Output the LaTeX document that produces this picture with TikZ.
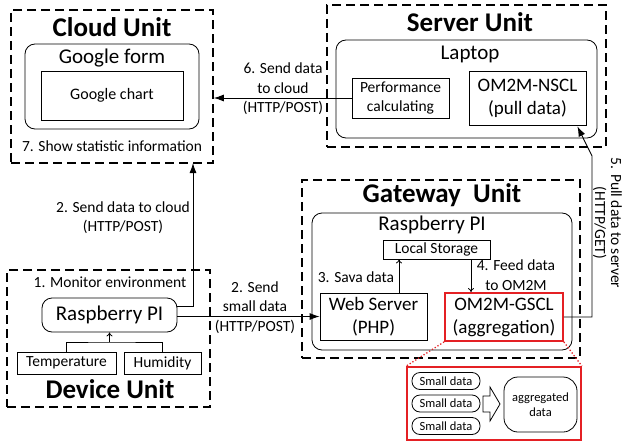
\documentclass[tikz,border=0pt]{standalone}
\usepackage{fontspec}
\setmainfont{Carlito}
\usetikzlibrary{arrows.meta,calc}
\definecolor{myred}{RGB}{228,32,36}
\begin{document}
\begin{tikzpicture}[x=1pt,y=-1pt,
  unitbox/.style={draw, dash pattern=on 9pt off 5pt, line width=1.6pt, inner sep=0pt},
  rbox/.style={draw, rounded corners=10pt, line width=0.8pt, inner sep=0pt},
  sbox/.style={draw, line width=0.8pt, inner sep=0pt, align=center},
  title/.style={font=\fontsize{27}{30}\selectfont\bfseries, inner sep=0pt},
  big/.style={font=\fontsize{21}{24}\selectfont, inner sep=0pt},
  lbl/.style={font=\fontsize{15.5}{19.5}\selectfont, align=center, inner sep=0pt},
  small/.style={font=\fontsize{12.5}{15}\selectfont, align=center, inner sep=0pt},
  arr/.style={-{Latex[length=10pt,width=7pt]}, line width=0.9pt},
  sarr/.style={-{To[length=4pt,width=6pt]}, line width=0.8pt},
  pill/.style={draw, rounded corners=8pt, line width=0.8pt, minimum width=68pt, minimum height=17pt, inner sep=0pt, font=\fontsize{12.5}{15}\selectfont}
]
\useasboundingbox (0,0) rectangle (623,444);

% ---------- Cloud Unit ----------
\node[unitbox, minimum width=202pt, minimum height=153pt] (cloud) at (112,86.5) {};
\node[title] (cloudt) at (112,27) {Cloud Unit};
\node[rbox, minimum width=174pt, minimum height=85pt] (gform) at (112,86.5) {};
\node[big] (gformt) at (112,58) {Google form};
\node[sbox, minimum width=142pt, minimum height=49pt, font=\fontsize{16}{18}\selectfont] (gchart) at (112,95.5) {Google chart};
\node[lbl] (show) at (112,146) {7. Show statistic information};

% ---------- Server Unit ----------
\node[unitbox, minimum width=279pt, minimum height=142pt] (server) at (466.5,76) {};
\node[title] (servert) at (470,22) {Server Unit};
\node[rbox, minimum width=261pt, minimum height=98pt] (laptop) at (466.5,89) {};
\node[big] (laptopt) at (470,54) {Laptop};
\node[sbox, minimum width=97pt, minimum height=40pt, font=\fontsize{15.5}{19}\selectfont] (perf) at (400.5,98) {Performance\\calculating};
\node[sbox, minimum width=117pt, minimum height=54pt, font=\fontsize{19}{23}\selectfont] (nscl) at (527.5,98) {OM2M-NSCL\\(pull data)};

% ---------- Gateway Unit ----------
\node[unitbox, minimum width=278pt, minimum height=178pt] (gw) at (441,269) {};
\node[title] (gwt) at (442,195) {Gateway\ \ Unit};
\node[rbox, minimum width=260pt, minimum height=137pt] (grpi) at (442,281.5) {};
\node[big] (grpit) at (432,225) {Raspberry PI};
\node[sbox, minimum width=107pt, minimum height=19pt, font=\fontsize{15.5}{18}\selectfont] (ls) at (436.5,249.5) {Local Storage};
\node[sbox, minimum width=107pt, minimum height=47pt, font=\fontsize{19}{23}\selectfont] (ws) at (373.5,316.5) {Web Server\\(PHP)};
\node[sbox, draw=myred, line width=1.8pt, minimum width=118pt, minimum height=48pt, font=\fontsize{19}{23}\selectfont] (gscl) at (504,317) {OM2M-GSCL\\(aggregation)};

% ---------- Device Unit ----------
\node[unitbox, minimum width=203pt, minimum height=137pt] (dev) at (108.5,338.5) {};
\node[title] (devt) at (110,389) {Device Unit};
\node[lbl] (mon) at (110,282) {1. Monitor environment};
\node[rbox, minimum width=135pt, minimum height=34pt, font=\fontsize{21}{24}\selectfont] (drpi) at (109.5,315) {Raspberry PI};
\node[sbox, minimum width=99pt, minimum height=22pt, font=\fontsize{15.5}{18}\selectfont] (temp) at (66.5,363) {Temperature};
\node[sbox, minimum width=77pt, minimum height=22pt, font=\fontsize{15.5}{18}\selectfont] (hum) at (162.5,363) {Humidity};
\coordinate (j) at (109.5,342);
\draw[line width=0.8pt] (temp.north) |- (j) -| (hum.north);
\draw[sarr] (j) -- (drpi.south);

% ---------- Aggregation zoom ----------
\node[draw=myred, line width=1.8pt, minimum width=174pt, minimum height=73pt, inner sep=0pt] (zoom) at (494,403.5) {};
\node[pill] (s1) at (446,381) {Small data};
\node[pill] (s2) at (446,403.5) {Small data};
\node[pill] (s3) at (446,426) {Small data};
\node[draw, rounded corners=14pt, line width=0.8pt, minimum width=73pt, minimum height=55pt, inner sep=0pt, small] (agg) at (540.5,404.5) {aggregated\\data};
\draw[line width=0.8pt] (483,396) -- (490,396) -- (490,387) -- (500,404) -- (490,421) -- (490,412) -- (483,412) -- cycle;
\draw[myred, line width=1.3pt, dotted] (gscl.south west) -- (zoom.north west);
\draw[myred, line width=1.3pt, dotted] (gscl.south east) -- (zoom.north east);

% ---------- Connectors ----------
% 6
\draw[arr] (perf.west) -- (perf.west -| cloud.east);
\node[lbl] (l6) at (283,89) {6. Send data\\to cloud\\(HTTP/POST)};
% 2 to cloud
\coordinate (c2) at (193,163);
\draw[arr] ([yshift=9pt]drpi.east) -| (c2);
\node[lbl] (l2a) at (123,217.5) {2. Send data to cloud\\(HTTP/POST)};
% 2 to gateway
\draw[arr] (ws.west -| drpi.east) -- (ws.west);
\node[lbl] (l2b) at (255,307.5) {2. Send\\small data\\(HTTP/POST)};
% 3
\draw[sarr] ([xshift=25.5pt]ws.north) -- ([xshift=25.5pt]ws.north |- ls.south);
\node[lbl] (l3) at (356,277) {3. Sava data};
% 4
\draw[sarr] ([xshift=34.5pt]ls.south) -- ([xshift=34.5pt]ls.south |- gscl.north);
\node[lbl] (l4) at (516,275) {4. Feed data\\to OM2M};
% 5
\coordinate (c5) at (592,156);
\draw[arr] (gscl.east) -| (c5) -- ([xshift=-9pt,yshift=-1pt]nscl.south east);
\node[lbl, font=\fontsize{15.5}{16}\selectfont, rotate=-90] (l5) at (607.5,223) {5. Pull data to server\\(HTTP/GET)};
\end{tikzpicture}
\end{document}
